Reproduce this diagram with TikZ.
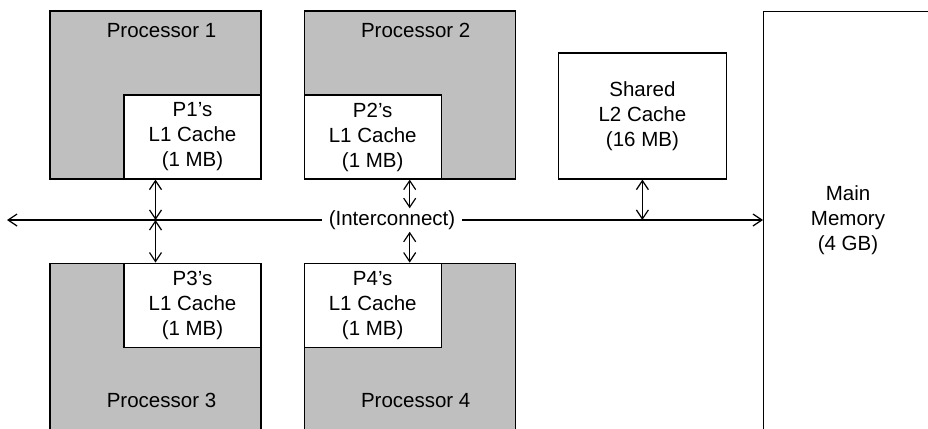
\documentclass[tikz,border=0pt]{standalone}
\usepackage{fontspec}
\setmainfont{Liberation Sans}
\usetikzlibrary{positioning,arrows.meta}
\tikzset{
    proc/.style={rectangle, fill=black!25, draw=black, line width=1.2pt, minimum width=211pt, minimum height=168pt, inner sep=0pt},
    cache/.style={rectangle, fill=white, draw=black, line width=1.2pt, minimum width=137pt, minimum height=84pt, text centered, align=center, inner sep=0pt},
    big_block/.style={rectangle, fill=white, draw=black, line width=1.2pt, text centered, align=center, inner sep=0pt},
    line/.style={{Straight Barb[length=9pt,width=12pt]}-{Straight Barb[length=9pt,width=12pt]}, line width=1.2pt},
    busline/.style={-{Straight Barb[length=9pt,width=12pt]}, line width=1.2pt},
}

\begin{document}
\begin{tikzpicture}
        [x=1pt,y=-1pt,node distance=83pt and 42pt,font=\fontsize{20.5}{25}\selectfont]
        \useasboundingbox (0,0) rectangle (928,428);

        % Processors and their L1 caches
        \node[proc] (p1) at (155.5,95) {};
        \node[proc,right=of p1] (p2) {};
        \node[proc,below=of p1,minimum height=200pt,anchor=north] (p3) {};
        \node[proc,below=of p2,minimum height=200pt,anchor=north] (p4) {};

        \node (t1) at ([xshift=6pt,yshift=-20pt]p1.north) {Processor 1};
        \node (t2) at ([xshift=6pt,yshift=-20pt]p2.north) {Processor 2};
        \node (t3) at ([xshift=6pt,yshift=-138pt]p3.north) {Processor 3};
        \node (t4) at ([xshift=6pt,yshift=-138pt]p4.north) {Processor 4};

        \node[cache,anchor=south east] (c1) at (p1.south east) {P1's\\L1 Cache\\(1 MB)};
        \node[cache,anchor=south west] (c2) at (p2.south west) {P2's\\L1 Cache\\(1 MB)};
        \node[cache,anchor=north east] (c3) at (p3.north east) {P3's\\L1 Cache\\(1 MB)};
        \node[cache,anchor=north west] (c4) at (p4.north west) {P4's\\L1 Cache\\(1 MB)};

        % Shared cache and memory
        \node[big_block,minimum width=168pt,minimum height=126pt,right=of p2.south east,anchor=south west] (l2) {Shared\\L2 Cache\\(16 MB)};
        \node[big_block,minimum width=260pt,minimum height=500pt,anchor=north west] (mem) at (763,11) {};
        \node[align=center] (memtext) at (848,220) {Main\\Memory\\(4 GB)};

        % Interconnect
        \node[inner xsep=7pt,inner ysep=2pt] (bus) at (392,220) {(Interconnect)};
        \coordinate (busleft) at (7,220);
        \draw[busline] (bus.west) -- (busleft);
        \draw[busline] (bus.east) -- (bus -| mem.west);

        % Lines
        \draw[line] (p1.south) -- (p1.south |- bus);
        \draw[line] (p3.north) -- (p3.north |- bus);
        \draw[line] (p2.south) -- (p2.south |- bus.north);
        \draw[line] (p4.north) -- (p4.north |- bus.south);
        \draw[line] (l2.south) -- (l2.south |- bus);

    \end{tikzpicture}
\end{document}
